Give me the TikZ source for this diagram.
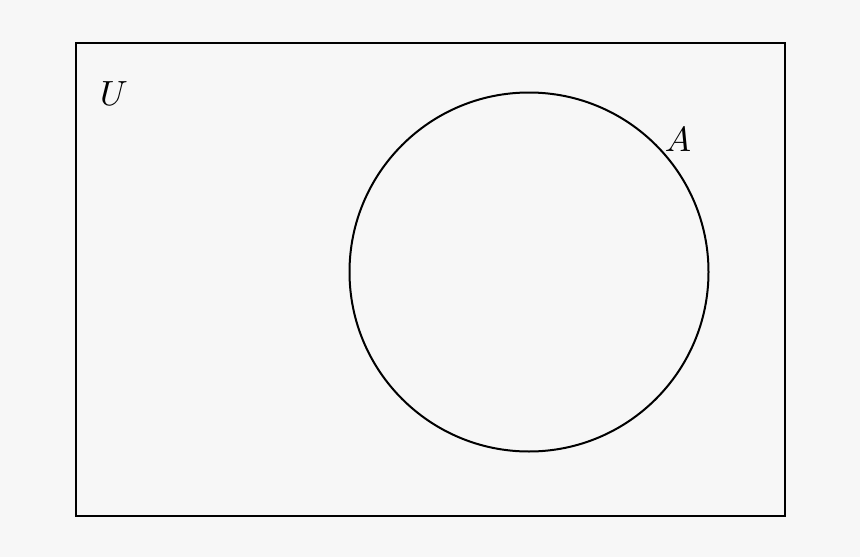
\documentclass[tikz,border=0pt]{standalone}
\usepackage{graphicx}
\definecolor{bg}{HTML}{F7F7F7}
\begin{document}
\begin{tikzpicture}[x=1pt,y=-1pt,
  frame/.style={draw=black,line width=2pt},
  lbl/.style={inner sep=0pt}]
\fill[bg] (0,0) rectangle (860,557);
\useasboundingbox (0,0) rectangle (860,557);
\node[frame,minimum width=709pt,minimum height=473pt,inner sep=0pt,anchor=north west] (U) at (75,42) {};
\node[frame,circle,minimum size=359pt,inner sep=0pt] (A) at (529,272) {};
\node[lbl] (Ul) at (114,94) {\scalebox{3.5}{$U$}};
\node[lbl] (Al) at (678,140) {\scalebox{3.5}{$A$}};
\end{tikzpicture}
\end{document}
